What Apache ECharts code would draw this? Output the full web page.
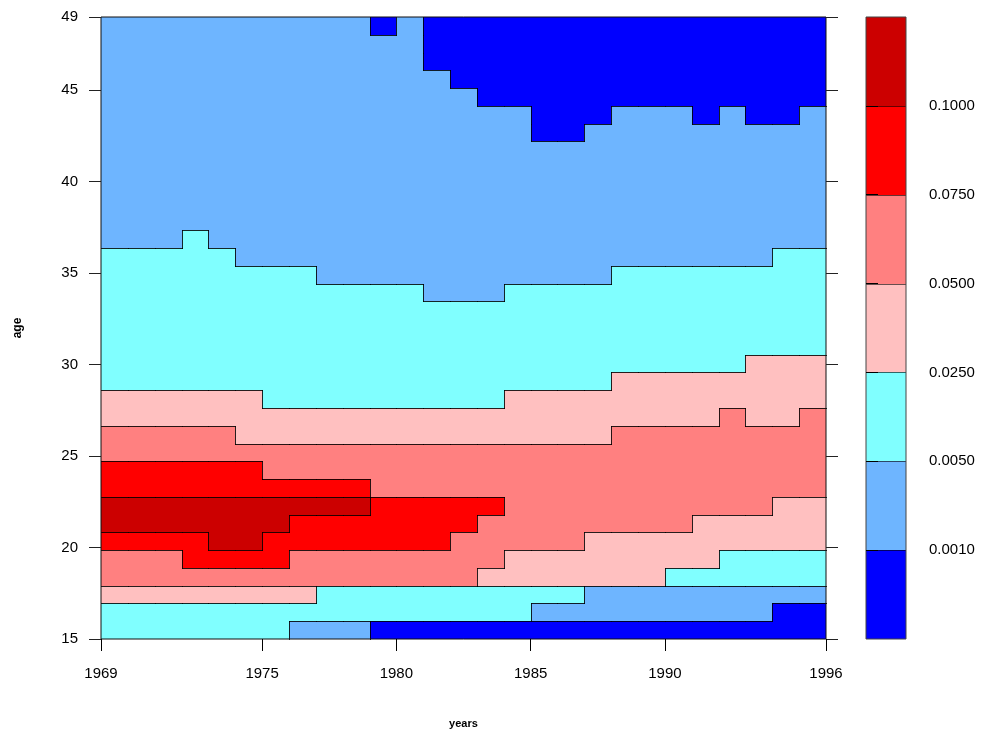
<!DOCTYPE html>
<html>
<head>
<meta charset="utf-8">
<script src="https://cdn.jsdelivr.net/npm/echarts@6/dist/echarts.min.js"></script>
<style>
  html, body { margin: 0; padding: 0; background: #fff; }
  #chart { width: 982px; height: 736px; }
</style>
</head>
<body>
<div id="chart"></div>
<script>
// ---- data ----
const years = [1969,1970,1971,1972,1973,1974,1975,1976,1977,1978,1979,1980,1981,1982,
               1983,1984,1985,1986,1987,1988,1989,1990,1991,1992,1993,1994,1995];
const ages = [15,16,17,18,19,20,21,22,23,24,25,26,27,28,29,30,31,32,33,34,35,36,37,38,
              39,40,41,42,43,44,45,46,47,48,49];
const levelBreaks = [0.0010, 0.0050, 0.0250, 0.0500, 0.0750, 0.1000];
const levelColors = ['#0000FF', '#6EB5FF', '#80FFFF', '#FFC0C0', '#FF8080', '#FF0000', '#CC0000'];
const xTicks = [1969, 1975, 1980, 1985, 1990, 1996];
const yTicks = [15, 20, 25, 30, 35, 40, 45, 49];
// level class (0 = below 0.0010 ... 6 = above 0.1000) per age (row) and year (column)
const levelByAge = [
  '222222211 100000000 000000000', // 15
  '222222222 222222211 111111100', // 16
  '333333332 222222222 111111111', // 17
  '444444444 444443333 333222222', // 18
  '444555544 444444333 333332222', // 19
  '555566555 555544444 333333333', // 20
  '666666655 555554444 444433333', // 21
  '666666666 655555444 444444433', // 22
  '555555555 544444444 444444444', // 23
  '555555444 444444444 444444444', // 24
  '444444444 444444444 444444444', // 25
  '444443333 333333333 344444444', // 26
  '333333333 333333333 333334334', // 27
  '333333222 222222333 333333333', // 28
  '222222222 222222222 233333333', // 29
  '222222222 222222222 222222333', // 30
  '222222222 222222222 222222222', // 31
  '222222222 222222222 222222222', // 32
  '222222222 222222222 222222222', // 33
  '222222222 222111222 222222222', // 34
  '222222221 111111111 122222222', // 35
  '222221111 111111111 111111122', // 36
  '111211111 111111111 111111111', // 37
  '111111111 111111111 111111111', // 38
  '111111111 111111111 111111111', // 39
  '111111111 111111111 111111111', // 40
  '111111111 111111111 111111111', // 41
  '111111111 111111111 111111111', // 42
  '111111111 111111100 111111111', // 43
  '111111111 111111100 011101001', // 44
  '111111111 111110000 000000000', // 45
  '111111111 111100000 000000000', // 46
  '111111111 111000000 000000000', // 47
  '111111111 111000000 000000000', // 48
  '111111111 101000000 000000000'  // 49
];

// ---- build ----
const grid = levelByAge.map(s => s.replace(/\s+/g, '').split('').map(Number));
const xMin = 1969, xMax = 1996, yMin = 15, yMax = 49;
const yearW = (xMax - xMin) / years.length;
const ageH = (yMax - yMin) / ages.length;

const cells = [];
for (let k = 0; k < ages.length; k++) {
  for (let j = 0; j < years.length; j++) {
    const lv = grid[k][j];
    const up = k + 1 < ages.length ? grid[k + 1][j] : lv;
    const right = j + 1 < years.length ? grid[k][j + 1] : lv;
    cells.push([xMin + j * yearW, xMin + (j + 1) * yearW, yMin + k * ageH, yMin + (k + 1) * ageH,
                lv, up !== lv ? 1 : 0, right !== lv ? 1 : 0]);
  }
}
const bands = levelColors.map((c, i) => [i, i + 1, i]);

const FONT = 'Liberation Sans, Arial, sans-serif';
const R = Math.round;

const chart = echarts.init(document.getElementById('chart'), null, { renderer: 'canvas' });
chart.setOption({
  animation: false,
  backgroundColor: '#fff',
  grid: [
    { left: 101, top: 17, width: 725, height: 622, show: true, z: 10,
      borderColor: '#111', borderWidth: 1, backgroundColor: 'transparent' },
    { left: 866, top: 17, width: 40, height: 622, show: true, z: 10,
      borderColor: '#444', borderWidth: 1, backgroundColor: 'transparent' }
  ],
  xAxis: [
    { gridIndex: 0, type: 'value', min: xMin, max: xMax, position: 'bottom', z: 10,
      axisLine: { show: false }, splitLine: { show: false },
      axisTick: { show: true, length: 12, customValues: xTicks, lineStyle: { color: '#000', width: 1 } },
      axisLabel: { customValues: xTicks, margin: 27, fontSize: 15, color: '#000', fontFamily: FONT,
        formatter: v => String(v) },
      name: 'years', nameLocation: 'middle', nameGap: 79,
      nameTextStyle: { fontSize: 11, fontWeight: 'bold', color: '#000', fontFamily: FONT } },
    { gridIndex: 1, type: 'value', min: 0, max: 1, show: false }
  ],
  yAxis: [
    { gridIndex: 0, type: 'value', min: yMin, max: yMax, position: 'left', z: 10,
      axisLine: { show: false }, splitLine: { show: false },
      axisTick: { show: true, length: 12, customValues: yTicks, lineStyle: { color: '#222', width: 1 } },
      axisLabel: { customValues: yTicks, margin: 23, fontSize: 15, color: '#000', fontFamily: FONT,
        formatter: v => String(v) },
      name: 'age', nameLocation: 'middle', nameGap: 77, nameRotate: 90,
      nameTextStyle: { fontSize: 12, fontWeight: 'bold', color: '#000', fontFamily: FONT } },
    { gridIndex: 0, type: 'value', min: yMin, max: yMax, position: 'right', z: 10,
      axisLine: { show: false }, splitLine: { show: false },
      axisTick: { show: true, length: 12, customValues: yTicks, lineStyle: { color: '#222', width: 1 } },
      axisLabel: { show: false } },
    { gridIndex: 1, type: 'value', min: 0, max: 7, position: 'right', z: 10,
      axisLine: { show: false }, splitLine: { show: false },
      axisTick: { show: true, length: 12, customValues: [1, 2, 3, 4, 5, 6], lineStyle: { color: '#000', width: 1 } },
      axisLabel: { customValues: [1, 2, 3, 4, 5, 6], margin: 23, fontSize: 15, color: '#000', fontFamily: FONT,
        formatter: v => levelBreaks[v - 1].toFixed(4) } }
  ],
  series: [
    { type: 'custom', xAxisIndex: 0, yAxisIndex: 0, z: 1, silent: true, data: cells,
      renderItem: (params, api) => {
        const a = api.coord([api.value(0), api.value(2)]);
        const b = api.coord([api.value(1), api.value(3)]);
        const x0 = R(a[0]), x1 = R(b[0]), y0 = R(b[1]), y1 = R(a[1]);
        return { type: 'rect', shape: { x: x0, y: y0, width: x1 - x0, height: y1 - y0 },
                 style: { fill: levelColors[api.value(4)] } };
      } },
    { type: 'custom', xAxisIndex: 0, yAxisIndex: 0, z: 2, silent: true, data: cells,
      renderItem: (params, api) => {
        const a = api.coord([api.value(0), api.value(2)]);
        const b = api.coord([api.value(1), api.value(3)]);
        const x0 = R(a[0]), x1 = R(b[0]), y0 = R(b[1]), y1 = R(a[1]);
        const children = [];
        const st = { stroke: 'rgba(0,0,0,0.85)', lineWidth: 1 };
        if (api.value(5)) children.push({ type: 'line', shape: { x1: x0, y1: y0 + 0.5, x2: x1 + 1, y2: y0 + 0.5 }, style: st });
        if (api.value(6)) children.push({ type: 'line', shape: { x1: x1 + 0.5, y1: y0, x2: x1 + 0.5, y2: y1 + 1 }, style: st });
        return { type: 'group', children };
      } },
    { type: 'custom', xAxisIndex: 1, yAxisIndex: 2, z: 1, silent: true, data: bands,
      renderItem: (params, api) => {
        const a = api.coord([0, api.value(0)]);
        const b = api.coord([1, api.value(1)]);
        const x0 = R(a[0]), x1 = R(b[0]), y0 = R(b[1]), y1 = R(a[1]);
        const children = [{ type: 'rect', shape: { x: x0, y: y0, width: x1 - x0, height: y1 - y0 },
                 style: { fill: levelColors[api.value(2)] } }];
        if (api.value(2) > 0) {
          children.push({ type: 'line', shape: { x1: x0, y1: y1 + 0.5, x2: x1, y2: y1 + 0.5 },
                          style: { stroke: 'rgba(0,0,0,0.6)', lineWidth: 1 } });
        }
        return { type: 'group', children };
      } }
  ]
});
</script>
</body>
</html>
